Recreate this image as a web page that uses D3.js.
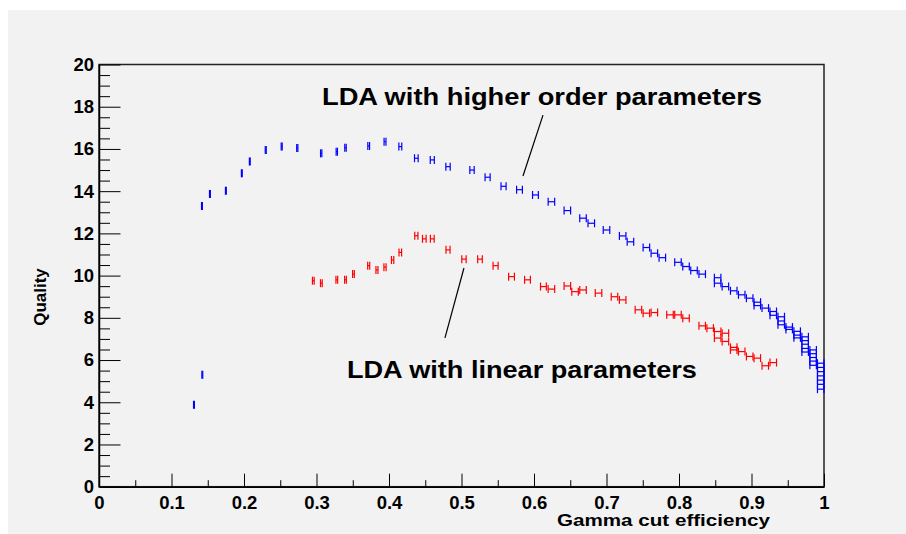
<!DOCTYPE html>
<html>
<head>
<meta charset="utf-8">
<script src="https://cdn.jsdelivr.net/npm/d3@7"></script>
<style>
  body { margin: 0; background: #fff; }
  text { font-family: "Liberation Sans", Arial, Helvetica, sans-serif; font-weight: bold; }
</style>
</head>
<body>
<svg id="chart"></svg>
<script>
// data: [efficiency, quality, efficiency error]
const higherOrder = [
  [0.131, 3.88, 0.0006], [0.1425, 5.30, 0.0006],
  [0.142, 13.30, 0.0006], [0.153, 13.87, 0.0006], [0.175, 14.02, 0.0006],
  [0.197, 14.85, 0.0006], [0.208, 15.40, 0.0006], [0.230, 15.95, 0.0007],
  [0.252, 16.12, 0.0007], [0.2735, 16.04, 0.0008], [0.3065, 15.79, 0.0009],
  [0.328, 15.87, 0.0009], [0.340, 16.06, 0.001], [0.372, 16.14, 0.0012],
  [0.3945, 16.34, 0.0013], [0.4156, 16.11, 0.002], [0.4377, 15.56, 0.0025],
  [0.4597, 15.48, 0.0028], [0.4814, 15.16, 0.003], [0.5145, 15.00, 0.003],
  [0.536, 14.66, 0.0035], [0.558, 14.23, 0.0035], [0.580, 14.07, 0.004],
  [0.602, 13.82, 0.004], [0.624, 13.50, 0.0045], [0.646, 13.08, 0.0045],
  [0.6676, 12.72, 0.0045], [0.679, 12.48, 0.0045], [0.700, 12.16, 0.0045],
  [0.7223, 11.88, 0.0045], [0.733, 11.60, 0.0045], [0.755, 11.33, 0.0045],
  [0.766, 11.06, 0.0045], [0.777, 10.85, 0.0045], [0.7986, 10.63, 0.0045],
  [0.8097, 10.43, 0.0045], [0.8207, 10.24, 0.0045], [0.832, 10.07, 0.0045],
  [0.8533, 9.90, 0.0045], [0.8533, 9.64, 0.0045], [0.864, 9.48, 0.0045],
  [0.8755, 9.28, 0.0045], [0.8865, 9.09, 0.0045], [0.8975, 8.93, 0.0045],
  [0.908, 8.74, 0.0045], [0.908, 8.58, 0.0045], [0.919, 8.46, 0.0045],
  [0.930, 8.30, 0.0045], [0.930, 8.12, 0.0045], [0.941, 8.05, 0.0045],
  [0.941, 7.85, 0.0045], [0.941, 7.67, 0.0045], [0.952, 7.56, 0.0045],
  [0.952, 7.45, 0.0045], [0.963, 7.36, 0.0045], [0.963, 7.18, 0.0045],
  [0.963, 7.05, 0.0045], [0.974, 7.10, 0.0045], [0.974, 6.92, 0.0045],
  [0.974, 6.75, 0.0045], [0.974, 6.55, 0.0045], [0.974, 6.38, 0.0045],
  [0.985, 6.48, 0.0045], [0.985, 6.30, 0.0045], [0.985, 6.12, 0.0045],
  [0.985, 5.95, 0.0045], [0.985, 5.75, 0.0045], [0.9955, 5.85, 0.0045],
  [0.9955, 5.65, 0.0045], [0.9955, 5.45, 0.0045], [0.9955, 5.25, 0.0045],
  [0.9955, 5.05, 0.0045], [0.9955, 4.85, 0.0045], [0.9955, 4.62, 0.0045]
];

const linear = [
  [0.2956, 9.76, 0.0012], [0.3067, 9.64, 0.0012], [0.328, 9.80, 0.0012],
  [0.340, 9.80, 0.0012], [0.351, 10.07, 0.0012], [0.372, 10.47, 0.0014],
  [0.3834, 10.27, 0.0014], [0.3945, 10.40, 0.0015], [0.405, 10.74, 0.0016],
  [0.4156, 11.10, 0.0018], [0.4377, 11.89, 0.0022], [0.4487, 11.74, 0.0025],
  [0.4597, 11.74, 0.0026], [0.4814, 11.22, 0.0028], [0.5034, 10.78, 0.003],
  [0.5255, 10.78, 0.0032], [0.547, 10.47, 0.0035], [0.569, 9.95, 0.004],
  [0.591, 9.80, 0.004], [0.613, 9.48, 0.004], [0.624, 9.36, 0.0045],
  [0.646, 9.51, 0.0045], [0.6566, 9.24, 0.0045], [0.6676, 9.32, 0.0045],
  [0.689, 9.17, 0.0045], [0.711, 9.00, 0.0045], [0.7223, 8.85, 0.0045],
  [0.744, 8.38, 0.0045], [0.755, 8.22, 0.0045], [0.766, 8.25, 0.0045],
  [0.7876, 8.14, 0.0045], [0.7986, 8.14, 0.0045], [0.8097, 7.98, 0.0045],
  [0.832, 7.62, 0.0045], [0.843, 7.51, 0.0045], [0.8533, 7.35, 0.0045],
  [0.8533, 7.04, 0.0045], [0.864, 7.27, 0.0045], [0.864, 6.88, 0.0045],
  [0.8755, 6.60, 0.0045], [0.8755, 6.48, 0.0045], [0.8865, 6.40, 0.0045],
  [0.8975, 6.17, 0.0045], [0.908, 6.09, 0.0045], [0.919, 5.73, 0.0045],
  [0.930, 5.88, 0.0045]
];

const xTicks = [0, 0.1, 0.2, 0.3, 0.4, 0.5, 0.6, 0.7, 0.8, 0.9, 1];
const yTicks = [0, 2, 4, 6, 8, 10, 12, 14, 16, 18, 20];

// annotation texts and the lines pointing to the curves (data coords)
const labels = [
  { text: "LDA with higher order parameters", x: 0.3076, y: 18.1, len: 440, line: [[0.6124, 17.6], [0.5848, 14.72]] },
  { text: "LDA with linear parameters", x: 0.342, y: 5.15, len: 350, line: [[0.5034, 10.36], [0.4772, 7.05]] }
];

const width = 906, height = 534;
const frame = { left: 99, right: 824, top: 64.5, bottom: 486.7 };

const svg = d3.select("#chart")
  .attr("width", width)
  .attr("height", height);

// grey pad
svg.append("rect")
  .attr("x", 8).attr("y", 10)
  .attr("width", width - 8).attr("height", height - 10)
  .attr("fill", "#f2f2f2");

const x = d3.scaleLinear().domain([0, 1]).range([frame.left, frame.right]);
const y = d3.scaleLinear().domain([0, 20]).range([frame.bottom, frame.top]);

// frame
svg.append("rect")
  .attr("x", frame.left).attr("y", frame.top)
  .attr("width", frame.right - frame.left).attr("height", frame.bottom - frame.top)
  .attr("fill", "none")
  .attr("stroke", "#222")
  .attr("stroke-width", 1.5);

// minor ticks first, then major ticks with labels
const yMinor = d3.range(0, 20.01, 0.5).filter(v => v % 2 !== 0);
svg.append("g")
  .attr("transform", `translate(${frame.left},0)`)
  .call(d3.axisRight(y).tickValues(yMinor).tickSize(11).tickFormat(""))
  .call(g => g.select(".domain").remove());

svg.append("g")
  .attr("transform", `translate(${frame.left},0)`)
  .call(d3.axisLeft(y).tickValues(yTicks).tickSize(0).tickPadding(5).tickFormat(d3.format("d")))
  .call(g => g.select(".domain").attr("stroke", "#000").attr("stroke-width", 1.5))
  .call(g => g.selectAll(".tick line").clone().attr("x2", 21.5))
  .call(g => g.selectAll("text").attr("font-size", 18.5).attr("font-family", null).attr("fill", "#000"));

const xMinor = d3.range(0.05, 1, 0.1);
svg.append("g")
  .attr("transform", `translate(0,${frame.bottom})`)
  .call(d3.axisTop(x).tickValues(xMinor).tickSize(6.5).tickFormat(""))
  .call(g => g.select(".domain").remove());

svg.append("g")
  .attr("transform", `translate(0,${frame.bottom})`)
  .call(d3.axisBottom(x).tickValues(xTicks).tickSize(0).tickPadding(9).tickFormat(d => d === 0 || d === 1 ? d3.format("d")(d) : d3.format(".1f")(d)))
  .call(g => g.select(".domain").attr("stroke", "#000").attr("stroke-width", 1.5))
  .call(g => g.selectAll(".tick line").clone().attr("y2", -13))
  .call(g => g.selectAll("text").attr("font-size", 18.5).attr("font-family", null).attr("fill", "#000"));

// axis titles
svg.append("text")
  .attr("x", 770).attr("y", 526)
  .attr("text-anchor", "end")
  .attr("font-size", 17)
  .attr("textLength", 213)
  .attr("lengthAdjust", "spacingAndGlyphs")
  .text("Gamma cut efficiency");

svg.append("text")
  .attr("transform", "translate(46,297) rotate(-90)")
  .attr("text-anchor", "middle")
  .attr("font-size", 17)
  .text("Quality");

// points drawn as horizontal error bar with end caps ("H" shape)
function drawSeries(data, color) {
  const g = svg.append("g")
    .attr("stroke", color)
    .attr("stroke-width", 1.2)
    .attr("fill", "none");
  const pts = g.selectAll("g").data(data).join("g");
  pts.append("line")
    .attr("x1", d => x(d[0] - d[2])).attr("x2", d => x(d[0] + d[2]))
    .attr("y1", d => y(d[1])).attr("y2", d => y(d[1]));
  pts.append("line")
    .attr("x1", d => x(d[0] - d[2])).attr("x2", d => x(d[0] - d[2]))
    .attr("y1", d => y(d[1]) - 4).attr("y2", d => y(d[1]) + 4);
  pts.append("line")
    .attr("x1", d => x(d[0] + d[2])).attr("x2", d => x(d[0] + d[2]))
    .attr("y1", d => y(d[1]) - 4).attr("y2", d => y(d[1]) + 4);
}

drawSeries(higherOrder, "#0000ff");
drawSeries(linear, "#ff0000");

// annotations
labels.forEach(l => {
  svg.append("text")
    .attr("x", x(l.x)).attr("y", y(l.y))
    .attr("font-size", 24)
    .attr("textLength", l.len)
    .attr("lengthAdjust", "spacingAndGlyphs")
    .text(l.text);
  svg.append("line")
    .attr("x1", x(l.line[0][0])).attr("y1", y(l.line[0][1]))
    .attr("x2", x(l.line[1][0])).attr("y2", y(l.line[1][1]))
    .attr("stroke", "#000")
    .attr("stroke-width", 1.2);
});
</script>
</body>
</html>
